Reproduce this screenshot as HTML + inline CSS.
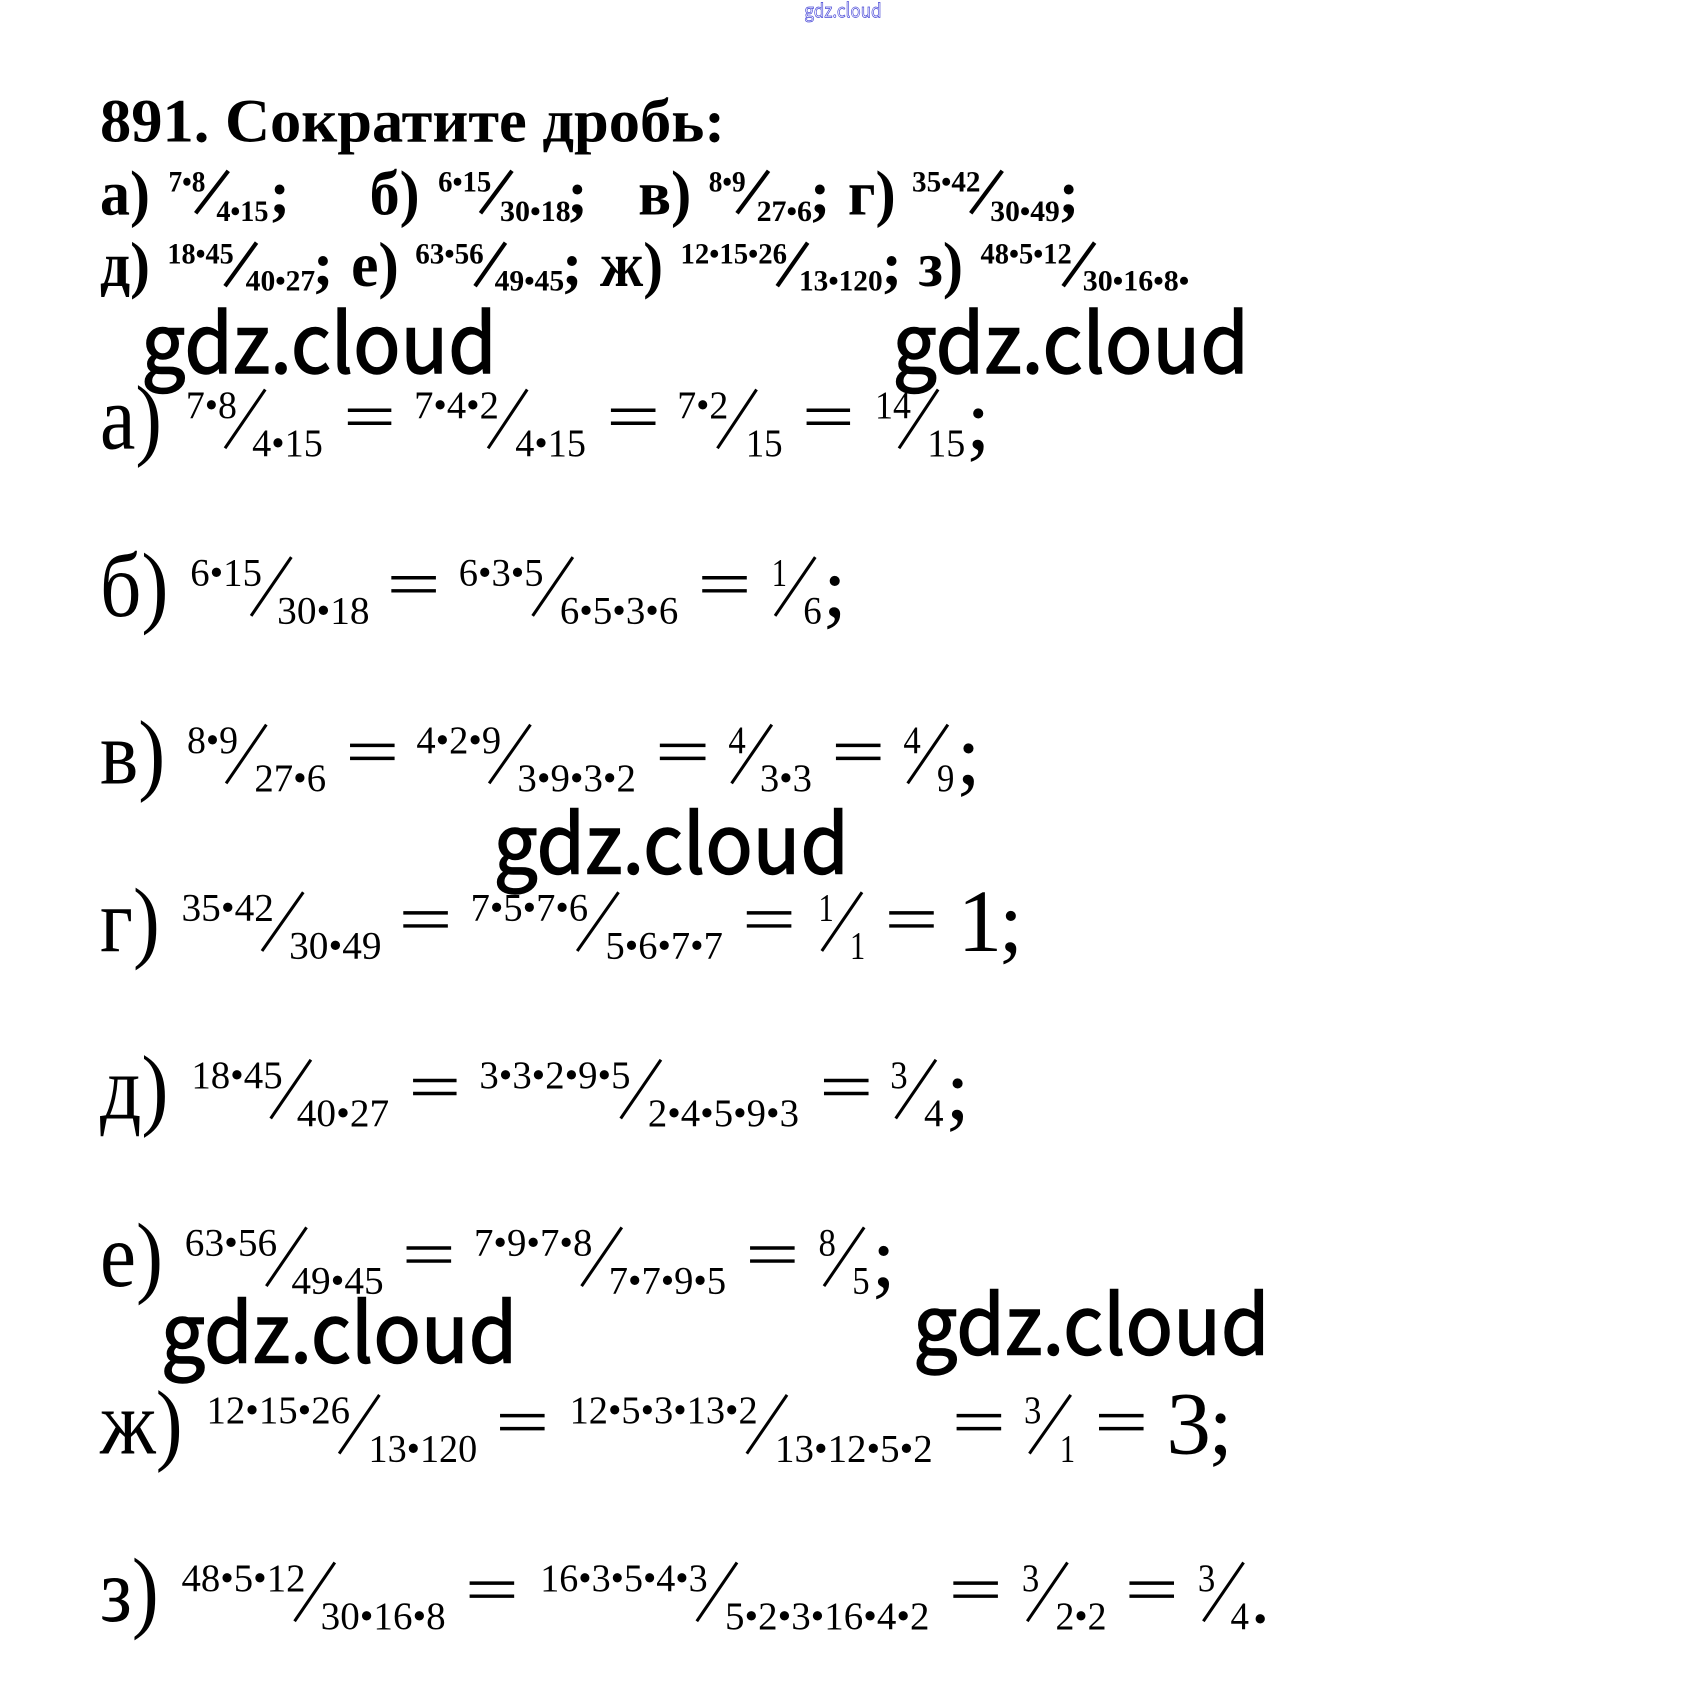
<!DOCTYPE html>
<html><head><meta charset="utf-8"><style>
html,body{margin:0;padding:0;background:#fff}
svg{display:block}
text{font-family:"Liberation Serif",serif;fill:#000}
.b{font-weight:bold}
.l{font-size:84px}.n{font-size:36px}.s{font-size:79px}.g{font-size:82px}
.lb{font-size:58px;font-weight:bold}.nb{font-size:27px;font-weight:bold}.sb{font-size:56px;font-weight:bold}
.w{font-family:"Noto Sans CJK SC","Liberation Sans",sans-serif;font-size:75px;stroke:#000;stroke-width:1.3}
.sl{stroke:#000;stroke-width:2.8;fill:none}.slb{stroke:#000;stroke-width:3.8;fill:none}.eq{stroke:#000;stroke-width:3.2;fill:none}
</style></head><body>
<svg xmlns="http://www.w3.org/2000/svg" width="1686" height="1705" viewBox="0 0 1551 1567" preserveAspectRatio="none">
<rect width="1551" height="1567" fill="#fff"/>
<text x="740" y="16" font-size="18" textLength="71" lengthAdjust="spacingAndGlyphs" style="font-family:'Noto Sans CJK SC','Liberation Sans',sans-serif;fill:#fff;stroke:#4a4ad8;stroke-width:.7">gdz.cloud</text>
<text x="92" y="130" class="b" font-size="56" textLength="575" lengthAdjust="spacingAndGlyphs">891. Сократите дробь:</text>

<text class="lb" x="92" y="197" textLength="46" lengthAdjust="spacingAndGlyphs">а)</text>
<text class="nb" x="155" y="176" textLength="34" lengthAdjust="spacingAndGlyphs">7•8</text><path class="slb" d="M180 196L210 157"/><text class="nb" x="199" y="203" textLength="48" lengthAdjust="spacingAndGlyphs">4•15</text><text class="sb" x="248" y="196">;</text>
<text class="lb" x="340" y="197" textLength="46" lengthAdjust="spacingAndGlyphs">б)</text>
<text class="nb" x="403" y="176" textLength="49" lengthAdjust="spacingAndGlyphs">6•15</text><path class="slb" d="M442 196L471 157"/><text class="nb" x="460" y="203" textLength="65" lengthAdjust="spacingAndGlyphs">30•18</text><text class="sb" x="522" y="196">;</text>
<text class="lb" x="587" y="197" textLength="49" lengthAdjust="spacingAndGlyphs">в)</text>
<text class="nb" x="652" y="176" textLength="34" lengthAdjust="spacingAndGlyphs">8•9</text><path class="slb" d="M678 196L707 157"/><text class="nb" x="696" y="203" textLength="51" lengthAdjust="spacingAndGlyphs">27•6</text><text class="sb" x="745" y="196">;</text>
<text class="lb" x="780" y="197" textLength="44" lengthAdjust="spacingAndGlyphs">г)</text>
<text class="nb" x="839" y="176" textLength="63" lengthAdjust="spacingAndGlyphs">35•42</text><path class="slb" d="M893 196L922 157"/><text class="nb" x="911" y="203" textLength="64" lengthAdjust="spacingAndGlyphs">30•49</text><text class="sb" x="974" y="196">;</text>

<text class="lb" x="92" y="263" textLength="46" lengthAdjust="spacingAndGlyphs">д)</text>
<text class="nb" x="154" y="242" textLength="61" lengthAdjust="spacingAndGlyphs">18•45</text><path class="slb" d="M207 263L236 223"/><text class="nb" x="226" y="267" textLength="64" lengthAdjust="spacingAndGlyphs">40•27</text><text class="sb" x="288" y="262">;</text>
<text class="lb" x="323" y="263" textLength="44" lengthAdjust="spacingAndGlyphs">е)</text>
<text class="nb" x="382" y="242" textLength="63" lengthAdjust="spacingAndGlyphs">63•56</text><path class="slb" d="M437 263L465 223"/><text class="nb" x="455" y="267" textLength="64" lengthAdjust="spacingAndGlyphs">49•45</text><text class="sb" x="517" y="262">;</text>
<text class="lb" x="552" y="263" textLength="58" lengthAdjust="spacingAndGlyphs">ж)</text>
<text class="nb" x="626" y="242" textLength="98" lengthAdjust="spacingAndGlyphs">12•15•26</text><path class="slb" d="M715 263L743 223"/><text class="nb" x="735" y="267" textLength="77" lengthAdjust="spacingAndGlyphs">13•120</text><text class="sb" x="811" y="262">;</text>
<text class="lb" x="845" y="263" textLength="41" lengthAdjust="spacingAndGlyphs">з)</text>
<text class="nb" x="902" y="242" textLength="84" lengthAdjust="spacingAndGlyphs">48•5•12</text><path class="slb" d="M978 263L1007 223"/><text class="nb" x="996" y="267" textLength="98" lengthAdjust="spacingAndGlyphs">30•16•8•</text>

<g transform="translate(0,412)">
<text class="l" x="92" textLength="57" lengthAdjust="spacingAndGlyphs">а)</text>
<text class="n" x="171" y="-28" textLength="47" lengthAdjust="spacingAndGlyphs">7•8</text><path class="sl" d="M207 0L244 -54"/><text class="n" x="232" y="7" textLength="65" lengthAdjust="spacingAndGlyphs">4•15</text>
<path class="eq" d="M320 -35H360M320 -23H360"/>
<text class="n" x="381" y="-28" textLength="78" lengthAdjust="spacingAndGlyphs">7•4•2</text><path class="sl" d="M449 0L485 -54"/><text class="n" x="474" y="7" textLength="65" lengthAdjust="spacingAndGlyphs">4•15</text>
<path class="eq" d="M562 -35H603M562 -23H603"/>
<text class="n" x="623" y="-28" textLength="47" lengthAdjust="spacingAndGlyphs">7•2</text><path class="sl" d="M660 0L696 -54"/><text class="n" x="686" y="7" textLength="34" lengthAdjust="spacingAndGlyphs">15</text>
<path class="eq" d="M742 -35H782M742 -23H782"/>
<text class="n" x="805" y="-28" textLength="33" lengthAdjust="spacingAndGlyphs">14</text><path class="sl" d="M827 0L863 -54"/><text class="n" x="853" y="7" textLength="35" lengthAdjust="spacingAndGlyphs">15</text><text class="s" x="889" y="0">;</text>
</g>

<g transform="translate(0,566)">
<text class="l" x="92" textLength="63" lengthAdjust="spacingAndGlyphs">б)</text>
<text class="n" x="175" y="-28" textLength="66" lengthAdjust="spacingAndGlyphs">6•15</text><path class="sl" d="M231 0L268 -54"/><text class="n" x="255" y="7" textLength="85" lengthAdjust="spacingAndGlyphs">30•18</text>
<path class="eq" d="M360 -35H401M360 -23H401"/>
<text class="n" x="422" y="-28" textLength="78" lengthAdjust="spacingAndGlyphs">6•3•5</text><path class="sl" d="M490 0L527 -54"/><text class="n" x="515" y="7" textLength="109" lengthAdjust="spacingAndGlyphs">6•5•3•6</text>
<path class="eq" d="M646 -35H687M646 -23H687"/>
<text class="n" x="710" y="-28" textLength="14" lengthAdjust="spacingAndGlyphs">1</text><path class="sl" d="M713 0L750 -54"/><text class="n" x="739" y="7" textLength="17" lengthAdjust="spacingAndGlyphs">6</text><text class="s" x="757" y="0">;</text>
</g>

<g transform="translate(0,720)">
<text class="l" x="92" textLength="60" lengthAdjust="spacingAndGlyphs">в)</text>
<text class="n" x="172" y="-28" textLength="47" lengthAdjust="spacingAndGlyphs">8•9</text><path class="sl" d="M208 0L245 -54"/><text class="n" x="234" y="7" textLength="66" lengthAdjust="spacingAndGlyphs">27•6</text>
<path class="eq" d="M322 -35H363M322 -23H363"/>
<text class="n" x="383" y="-28" textLength="78" lengthAdjust="spacingAndGlyphs">4•2•9</text><path class="sl" d="M450 0L488 -54"/><text class="n" x="476" y="7" textLength="109" lengthAdjust="spacingAndGlyphs">3•9•3•2</text>
<path class="eq" d="M607 -35H649M607 -23H649"/>
<text class="n" x="670" y="-28" textLength="16" lengthAdjust="spacingAndGlyphs">4</text><path class="sl" d="M673 0L710 -54"/><text class="n" x="699" y="7" textLength="48" lengthAdjust="spacingAndGlyphs">3•3</text>
<path class="eq" d="M769 -35H810M769 -23H810"/>
<text class="n" x="831" y="-28" textLength="16" lengthAdjust="spacingAndGlyphs">4</text><path class="sl" d="M835 0L872 -54"/><text class="n" x="862" y="7" textLength="16" lengthAdjust="spacingAndGlyphs">9</text><text class="s" x="880" y="0">;</text>
</g>

<g transform="translate(0,874)">
<text class="l" x="92" textLength="55" lengthAdjust="spacingAndGlyphs">г)</text>
<text class="n" x="167" y="-28" textLength="85" lengthAdjust="spacingAndGlyphs">35•42</text><path class="sl" d="M241 0L279 -54"/><text class="n" x="266" y="7" textLength="85" lengthAdjust="spacingAndGlyphs">30•49</text>
<path class="eq" d="M371 -35H412M371 -23H412"/>
<text class="n" x="433" y="-28" textLength="108" lengthAdjust="spacingAndGlyphs">7•5•7•6</text><path class="sl" d="M531 0L569 -54"/><text class="n" x="557" y="7" textLength="108" lengthAdjust="spacingAndGlyphs">5•6•7•7</text>
<path class="eq" d="M687 -35H728M687 -23H728"/>
<text class="n" x="753" y="-28" textLength="14" lengthAdjust="spacingAndGlyphs">1</text><path class="sl" d="M756 0L793 -54"/><text class="n" x="782" y="7" textLength="14" lengthAdjust="spacingAndGlyphs">1</text>
<path class="eq" d="M818 -35H859M818 -23H859"/>
<text class="g" x="881" y="0">1</text><text class="s" x="919" y="0">;</text>
</g>

<g transform="translate(0,1028)">
<text class="l" x="92" textLength="63" lengthAdjust="spacingAndGlyphs">д)</text>
<text class="n" x="176" y="-28" textLength="84" lengthAdjust="spacingAndGlyphs">18•45</text><path class="sl" d="M249 0L286 -54"/><text class="n" x="273" y="7" textLength="85" lengthAdjust="spacingAndGlyphs">40•27</text>
<path class="eq" d="M380 -35H420M380 -23H420"/>
<text class="n" x="441" y="-28" textLength="139" lengthAdjust="spacingAndGlyphs">3•3•2•9•5</text><path class="sl" d="M571 0L608 -54"/><text class="n" x="596" y="7" textLength="139" lengthAdjust="spacingAndGlyphs">2•4•5•9•3</text>
<path class="eq" d="M758 -35H799M758 -23H799"/>
<text class="n" x="819" y="-28" textLength="16" lengthAdjust="spacingAndGlyphs">3</text><path class="sl" d="M824 0L861 -54"/><text class="n" x="850" y="7" textLength="18" lengthAdjust="spacingAndGlyphs">4</text><text class="s" x="870" y="0">;</text>
</g>

<g transform="translate(0,1182)">
<text class="l" x="92" textLength="58" lengthAdjust="spacingAndGlyphs">е)</text>
<text class="n" x="170" y="-28" textLength="85" lengthAdjust="spacingAndGlyphs">63•56</text><path class="sl" d="M245 0L282 -54"/><text class="n" x="268" y="7" textLength="85" lengthAdjust="spacingAndGlyphs">49•45</text>
<path class="eq" d="M374 -35H415M374 -23H415"/>
<text class="n" x="436" y="-28" textLength="109" lengthAdjust="spacingAndGlyphs">7•9•7•8</text><path class="sl" d="M535 0L572 -54"/><text class="n" x="560" y="7" textLength="108" lengthAdjust="spacingAndGlyphs">7•7•9•5</text>
<path class="eq" d="M690 -35H731M690 -23H731"/>
<text class="n" x="753" y="-28" textLength="16" lengthAdjust="spacingAndGlyphs">8</text><path class="sl" d="M758 0L795 -54"/><text class="n" x="784" y="7" textLength="16" lengthAdjust="spacingAndGlyphs">5</text><text class="s" x="802" y="0">;</text>
</g>

<g transform="translate(0,1336)">
<text class="l" x="92" textLength="76" lengthAdjust="spacingAndGlyphs">ж)</text>
<text class="n" x="190" y="-28" textLength="132" lengthAdjust="spacingAndGlyphs">12•15•26</text><path class="sl" d="M312 0L349 -54"/><text class="n" x="339" y="7" textLength="100" lengthAdjust="spacingAndGlyphs">13•120</text>
<path class="eq" d="M460 -35H501M460 -23H501"/>
<text class="n" x="524" y="-28" textLength="173" lengthAdjust="spacingAndGlyphs">12•5•3•13•2</text><path class="sl" d="M687 0L724 -54"/><text class="n" x="713" y="7" textLength="145" lengthAdjust="spacingAndGlyphs">13•12•5•2</text>
<path class="eq" d="M880 -35H921M880 -23H921"/>
<text class="n" x="942" y="-28" textLength="16" lengthAdjust="spacingAndGlyphs">3</text><path class="sl" d="M947 0L985 -54"/><text class="n" x="975" y="7" textLength="14" lengthAdjust="spacingAndGlyphs">1</text>
<path class="eq" d="M1011 -35H1052M1011 -23H1052"/>
<text class="g" x="1073" y="0">3</text><text class="s" x="1112" y="0">;</text>
</g>

<g transform="translate(0,1490)">
<text class="l" x="92" textLength="54" lengthAdjust="spacingAndGlyphs">з)</text>
<text class="n" x="167" y="-28" textLength="114" lengthAdjust="spacingAndGlyphs">48•5•12</text><path class="sl" d="M271 0L308 -54"/><text class="n" x="295" y="7" textLength="115" lengthAdjust="spacingAndGlyphs">30•16•8</text>
<path class="eq" d="M432 -35H473M432 -23H473"/>
<text class="n" x="497" y="-28" textLength="154" lengthAdjust="spacingAndGlyphs">16•3•5•4•3</text><path class="sl" d="M641 0L678 -54"/><text class="n" x="667" y="7" textLength="188" lengthAdjust="spacingAndGlyphs">5•2•3•16•4•2</text>
<path class="eq" d="M877 -35H918M877 -23H918"/>
<text class="n" x="940" y="-28" textLength="16" lengthAdjust="spacingAndGlyphs">3</text><path class="sl" d="M945 0L982 -54"/><text class="n" x="971" y="7" textLength="47" lengthAdjust="spacingAndGlyphs">2•2</text>
<path class="eq" d="M1039 -35H1080M1039 -23H1080"/>
<text class="n" x="1102" y="-28" textLength="16" lengthAdjust="spacingAndGlyphs">3</text><path class="sl" d="M1107 0L1144 -54"/><text class="n" x="1132" y="7" textLength="17" lengthAdjust="spacingAndGlyphs">4</text><text x="1153" y="10" font-size="36">•</text>
</g>

<text class="w" x="130" y="343" textLength="327" lengthAdjust="spacingAndGlyphs">gdz.cloud</text>
<text class="w" x="821" y="343" textLength="328" lengthAdjust="spacingAndGlyphs">gdz.cloud</text>
<text class="w" x="454" y="803" textLength="327" lengthAdjust="spacingAndGlyphs">gdz.cloud</text>
<text class="w" x="148" y="1252" textLength="328" lengthAdjust="spacingAndGlyphs">gdz.cloud</text>
<text class="w" x="840" y="1245" textLength="328" lengthAdjust="spacingAndGlyphs">gdz.cloud</text>
</svg>
</body></html>
